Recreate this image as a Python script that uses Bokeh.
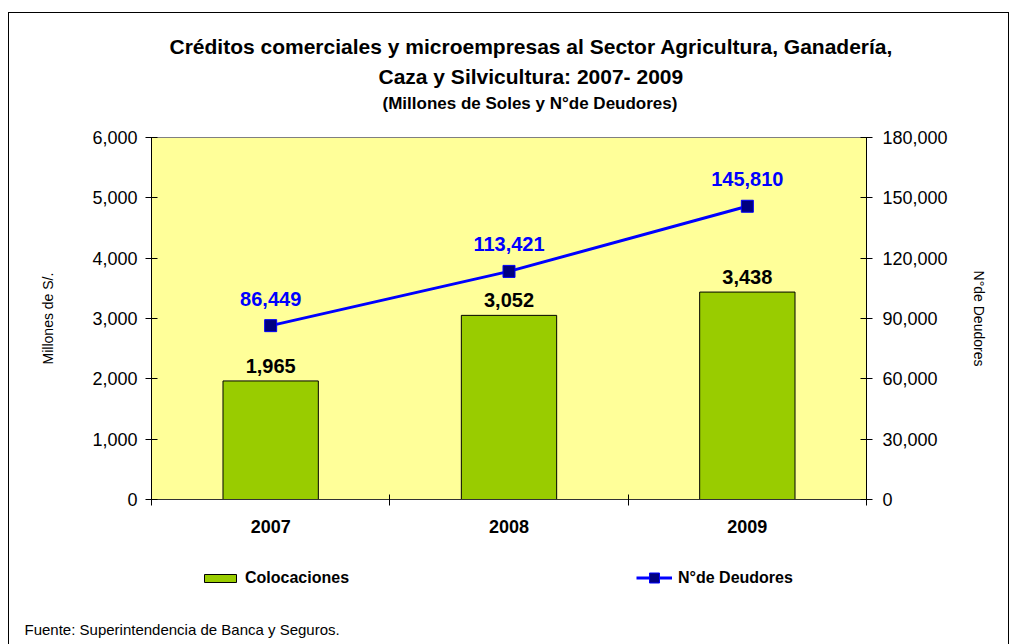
from bokeh.plotting import figure
from bokeh.layouts import column
from bokeh.models import (Range1d, LinearAxis, FixedTicker, NumeralTickFormatter, Title,
                          Legend, LegendItem, ColumnDataSource, LabelSet, Label)
from bokeh.core.properties import value
from bokeh.embed import file_html
from bokeh.resources import INLINE

# ---- data ----
years = ["2007", "2008", "2009"]
colocaciones = [1965, 3052, 3438]
deudores = [86449, 113421, 145810]
left_ticks = [0, 1000, 2000, 3000, 4000, 5000, 6000]
right_ticks = [0, 30000, 60000, 90000, 120000, 150000, 180000]

title1 = "Créditos comerciales y microempresas al Sector Agricultura, Ganadería,"
title2 = "Caza y Silvicultura: 2007- 2009"
title3 = "(Millones de Soles y N°de Deudores)"
footer = "Fuente: Superintendencia de Banca y Seguros."
series_names = ["Colocaciones", "N°de Deudores"]

FONT = "Liberation Sans"
BAR_FILL = "#99CC00"
LINE_COL = "#0000FF"
MARK_FILL = "#000080"

xpos = [i + 0.5 for i in range(len(years))]
src = ColumnDataSource(dict(
    x=xpos, col=colocaciones, deu=deudores,
    col_lbl=[f"{v:,}" for v in colocaciones],
    deu_lbl=[f"{v:,}" for v in deudores],
))

W = 1010
H_MAIN = 550
H_FOOT = 94

p = figure(width=W, height=H_MAIN, output_backend="svg", toolbar_location=None,
           x_range=Range1d(0, len(years)), y_range=Range1d(left_ticks[0], left_ticks[-1]),
           min_border_left=151, min_border_right=144, min_border_top=137, min_border_bottom=51)
p.frame_align = False
p.extra_y_ranges = {"deu": Range1d(right_ticks[0], right_ticks[-1])}
p.background_fill_color = "#FFFF99"
p.border_fill_color = None
p.outline_line_color = "#808080"
p.xgrid.visible = False
p.ygrid.visible = False

# x axis
xa = p.xaxis[0]
xa.ticker = FixedTicker(ticks=xpos, minor_ticks=list(range(len(years) + 1)))
xa.major_label_overrides = {x: y for x, y in zip(xpos, years)}
xa.major_tick_in = 0
xa.major_tick_out = 0
xa.minor_tick_in = 5
xa.minor_tick_out = 6
xa.minor_tick_line_color = "black"
xa.axis_line_color = "#333333"
xa.major_label_standoff = 14
xa.major_label_text_font = FONT
xa.major_label_text_font_style = "bold"
xa.major_label_text_font_size = "18px"
xa.major_label_text_color = "black"

# left axis
ya = p.yaxis[0]
ya.ticker = FixedTicker(ticks=left_ticks)
ya.formatter = NumeralTickFormatter(format="0,0")
ya.major_tick_in = 6
ya.major_tick_out = 6
ya.minor_tick_in = 0
ya.minor_tick_out = 0
ya.axis_line_color = "black"
ya.major_tick_line_color = "black"
ya.major_label_standoff = 8
ya.major_label_text_font = FONT
ya.major_label_text_font_size = "18px"
ya.major_label_text_color = "black"
ya.axis_label = "Millones de S/."
ya.axis_label_text_font = FONT
ya.axis_label_text_font_size = "14px"
ya.axis_label_text_font_style = "normal"
ya.axis_label_text_color = "black"
ya.axis_label_standoff = 33

# right axis
ra = LinearAxis(y_range_name="deu", ticker=FixedTicker(ticks=right_ticks),
                formatter=NumeralTickFormatter(format="0,0"))
ra.major_tick_in = 6
ra.major_tick_out = 6
ra.minor_tick_in = 0
ra.minor_tick_out = 0
ra.axis_line_color = "black"
ra.major_tick_line_color = "black"
ra.major_label_standoff = 10
ra.major_label_text_font = FONT
ra.major_label_text_font_size = "18px"
ra.major_label_text_color = "black"
ra.axis_label = "N°de Deudores"
ra.axis_label_text_font = FONT
ra.axis_label_text_font_size = "14px"
ra.axis_label_text_font_style = "normal"
ra.axis_label_text_color = "black"
ra.axis_label_standoff = 20
p.add_layout(ra, "right")

# glyphs
p.vbar(x="x", top="col", width=0.4, fill_color=BAR_FILL, line_color="black",
       line_width=1, source=src)
p.line("x", "deu", y_range_name="deu", line_color=LINE_COL, line_width=3, source=src)
p.scatter("x", "deu", y_range_name="deu", marker="square", size=12,
          fill_color=MARK_FILL, line_color=LINE_COL, line_width=1, source=src)

p.add_layout(LabelSet(x="x", y="col", text="col_lbl", source=src, text_align="center",
                      text_baseline="bottom", y_offset=8, text_font=value(FONT),
                      text_font_style="bold", text_font_size="20px", text_color="black"))
p.add_layout(LabelSet(x="x", y="deu", text="deu_lbl", source=src, y_range_name="deu",
                      text_align="center", text_baseline="bottom", y_offset=20,
                      text_font=value(FONT), text_font_style="bold", text_font_size="20px",
                      text_color=LINE_COL))

# titles (closest to the frame first; the first one is an empty spacer)
p.add_layout(Title(text=" ", text_font_size="1px", standoff=19), "above")
for txt, off, so, sz in [(title3, 231, 6, "17px"), (title2, 227, 2, "21px"),
                         (title1, 18, 7, "21px")]:
    p.add_layout(Title(text=txt, align="left", offset=off, standoff=so,
                       text_font=FONT, text_font_style="bold", text_font_size=sz,
                       text_color="black"), "above")

# ---- bottom strip: legend and source note ----
q = figure(width=W, height=H_FOOT, output_backend="svg", toolbar_location=None,
           x_range=Range1d(0, W), y_range=Range1d(0, H_FOOT),
           x_axis_location=None, y_axis_location=None,
           min_border=0, min_border_left=0, min_border_right=0,
           min_border_top=0, min_border_bottom=0)
q.frame_align = False
q.xgrid.visible = False
q.ygrid.visible = False
q.outline_line_color = None
q.background_fill_color = None
q.border_fill_color = None

# legend proxies: same series, mapped onto a range that keeps them out of view
q.extra_x_ranges = {"off": Range1d(-20, -10)}
q.extra_y_ranges = {"off": Range1d(-2e6, -1e6)}
r_bar = q.vbar(x="x", top="col", width=0.4, fill_color=BAR_FILL, line_color="black",
               line_width=1, source=src, x_range_name="off", y_range_name="off")
r_line = q.line("x", "deu", line_color=LINE_COL, line_width=3, source=src,
                x_range_name="off", y_range_name="off")
r_pts = q.scatter("x", "deu", marker="square", size=12, fill_color=MARK_FILL,
                  line_color=LINE_COL, line_width=1, source=src,
                  x_range_name="off", y_range_name="off")

common = dict(orientation="horizontal", border_line_alpha=0, background_fill_alpha=0,
              padding=0, margin=0, label_text_font=FONT, label_text_font_style="bold",
              label_text_font_size="16px", label_text_color="black")
legend1 = Legend(items=[LegendItem(label=series_names[0], renderers=[r_bar])],
                 location=(200, 57), glyph_width=40, glyph_height=10, label_standoff=5,
                 **common)
legend2 = Legend(items=[LegendItem(label=series_names[1], renderers=[r_line, r_pts])],
                 location=(636, 54), glyph_width=36, glyph_height=25, label_standoff=6,
                 **common)
q.add_layout(legend1, "center")
q.add_layout(legend2, "center")

q.add_layout(Label(x=24, y=15, x_units="screen", y_units="screen", text=footer,
                   text_align="left", text_baseline="middle", text_font=FONT,
                   text_font_size="15px", text_color="black"))

layout = column(p, q, spacing=0)
layout.styles = {
    "background": ("linear-gradient(#000,#000) 8px 12px / 1px 640px no-repeat, "
                   "linear-gradient(#000,#000) 8px 12px / 1001px 1px no-repeat, "
                   "linear-gradient(#000,#000) 1008px 12px / 1px 640px no-repeat, #fff"),
}

open("out.html", "w").write(file_html(layout, INLINE))
